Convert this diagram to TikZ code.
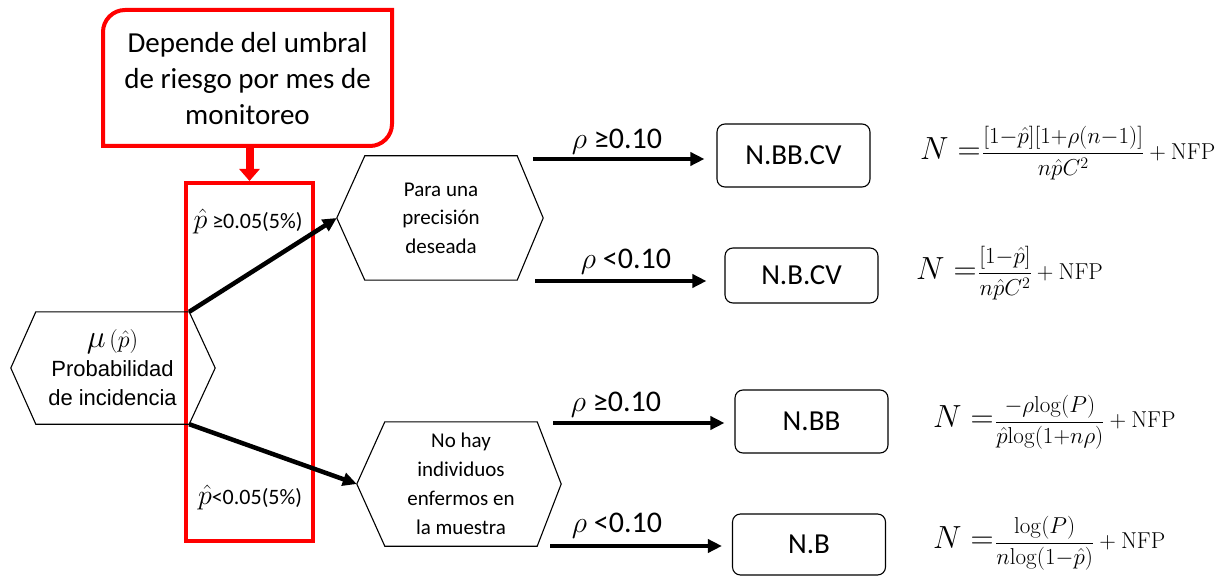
\RequirePackage{fix-cm}
\documentclass[tikz,border=0pt]{standalone}
\usepackage[no-math]{fontspec}
\setmainfont{Carlito}
\newfontfamily\arialf{Liberation Sans}
\usetikzlibrary{arrows.meta,calc}
\definecolor{pred}{RGB}{255,0,0}
\tikzset{
  redline/.style={draw=pred,line width=4pt},
  hexnode/.style={inner sep=0pt,minimum width=152pt,minimum height=124pt,align=center,
    font=\fontsize{21}{28.5}\selectfont},
  hexline/.style={draw=black,line width=1.1pt,line join=miter},
  resbox/.style={draw,rounded corners=8pt,line width=1.1pt,minimum width=153pt,
    inner sep=0pt,font=\fontsize{29}{34}\selectfont},
  arr/.style={line width=4.5pt,-{Triangle[length=14pt,width=13pt]}},
  redarr/.style={draw=pred,line width=8pt,-{Triangle[length=12pt,width=20pt]}},
  rholbl/.style={inner sep=0pt,font=\fontsize{30}{32}\selectfont},
  plbl/.style={inner sep=0pt,font=\fontsize{22}{26}\selectfont},
  formula/.style={inner sep=0pt,anchor=west},
}
\newcommand\hexborder[3]{%
  \draw[hexline] (#1.north west) -- (#1.north east) -- ([xshift=#3]#1.east)
    -- (#1.south east) -- (#1.south west) -- ([xshift=-#2]#1.west) -- cycle;
  \coordinate (#1-tip) at ([xshift=-#2]#1.west);}
\newcommand\bigNeq{{\fontsize{32}{36}\selectfont$N =$}\,}
\newcommand\tmn{{-}}
\newcommand\tpl{{+}}
\begin{document}
\begin{tikzpicture}[x=1pt,y=-1pt]
\useasboundingbox (0,0) rectangle (1231,577);

% callout
\node[align=center,font=\fontsize{29}{36}\selectfont,minimum width=289pt,
  minimum height=136pt,inner sep=0pt] (callout) at (247.5,79)
  {Depende del umbral\\de riesgo por mes de\\monitoreo};
\draw[redline] (103,146) -- (103,32) .. controls (103,19.9) and (112.9,10) .. (125,10)
  -- (392,10) -- (392,124) .. controls (392,136.1) and (382.1,146) .. (370,146) -- cycle;

% red rectangle
\node[redline,minimum width=127pt,minimum height=358pt,inner sep=0pt] (redbox) at (249.5,362) {};
\draw[redarr] (callout.south -| redbox.north) -- (redbox.north);

% left hexagon
\node[hexnode,minimum width=153pt,minimum height=112pt,
  font=\arialf\fontsize{22}{29}\selectfont] (inc) at (112.5,368)
  {{\fontsize{32}{29}\selectfont$\mu$}\,{\fontsize{24}{29}\selectfont$(\hat{p})$}\\Probabilidad\\de incidencia};
\hexborder{inc}{25pt}{26pt}

% middle hexagons
\node[hexnode] (hu) at (441,218) {Para una\\precisión\\deseada};
\hexborder{hu}{28pt}{26pt}
\node[hexnode,font=\fontsize{21}{29}\selectfont] (hl) at (461,484)
  {No hay\\individuos\\enfermos en\\la muestra};
\hexborder{hl}{28pt}{24pt}

\draw[arr] (inc.north east) -- (hu-tip);
\draw[arr] (inc.south east) -- (hl-tip);

\node[plbl] (pge) at (248,222) {{\fontsize{28}{26}\selectfont$\hat{p}$} ≥0.05(5\%)};
\node[plbl] (plt) at (250,497) {{\fontsize{28}{26}\selectfont$\hat{p}$}<0.05(5\%)};

% result boxes
\node[resbox,minimum height=63pt] (bbcv) at (793.5,155.5) {N.BB.CV};
\node[resbox,minimum height=55pt] (bcv) at (801.5,275.5) {N.B.CV};
\node[resbox,minimum height=63pt] (bb) at (811.5,421.5) {N.BB};
\node[resbox,minimum height=61pt] (b) at (809,544.5) {N.B};

\coordinate (s1) at (533,159);
\coordinate (s2) at (535,281);
\coordinate (s3) at (553,423);
\coordinate (s4) at (550,546);
\draw[arr,shorten >=12pt] (s1) -- (s1 -| bbcv.west);
\draw[arr,shorten >=18pt] (s2) -- (s2 -| bcv.west);
\draw[arr,shorten >=10pt] (s3) -- (s3 -| bb.west);
\draw[arr,shorten >=10pt] (s4) -- (s4 -| b.west);

\node[rholbl] (r1) at (617,142) {$\rho$ ≥0.10};
\node[rholbl] (r2) at (626,262) {$\rho$ <0.10};
\node[rholbl] (r3) at (616,405) {$\rho$ ≥0.10};
\node[rholbl] (r4) at (617,526) {$\rho$ <0.10};

% formulas
\node[formula] (f1) at (920,153) {\bigNeq{\fontsize{23}{27}\selectfont
  $\displaystyle\frac{[1\tmn\hat{p}][1\tpl\rho(n\tmn1)]}{n\hat{p}C^2}+\mathrm{NFP}$}};
\node[formula] (f2) at (916,273) {\bigNeq{\fontsize{23}{27}\selectfont
  $\displaystyle\frac{[1\tmn\hat{p}]}{n\hat{p}C^2}+\mathrm{NFP}$}};
\node[formula] (f3) at (933,422) {\bigNeq{\fontsize{23}{27}\selectfont
  $\displaystyle\frac{-\rho\mathrm{log}(P)}{\hat{p}\mathrm{log}(1\tpl n\rho)}+\mathrm{NFP}$}};
\node[formula] (f4) at (933,543) {\bigNeq{\fontsize{23}{27}\selectfont
  $\displaystyle\frac{\log(P)}{n\mathrm{log}(1\tmn\hat{p})}+\mathrm{NFP}$}};
\end{tikzpicture}
\end{document}
